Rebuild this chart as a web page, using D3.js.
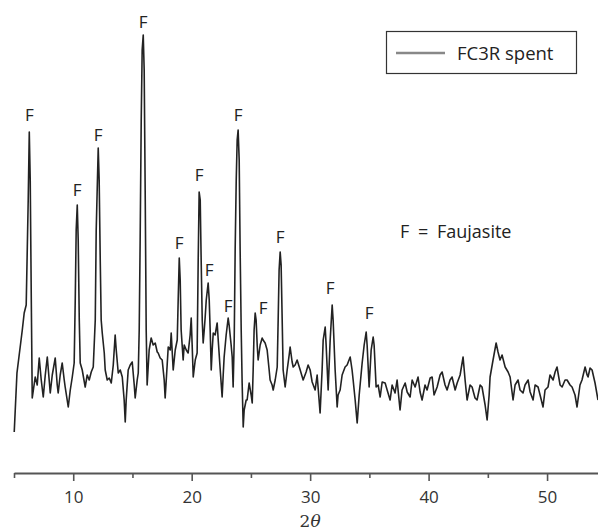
<!DOCTYPE html>
<html>
<head>
<meta charset="utf-8">
<script src="https://cdn.jsdelivr.net/npm/d3@7"></script>
<style>
  html, body { margin: 0; padding: 0; background: #fff; }
  svg { display: block; font-family: "Open Sans", "Noto Sans", sans-serif; }
</style>
</head>
<body>
<div id="chart"></div>
<script>
// XRD pattern (2theta in degrees, intensity in a.u.)
const twoTheta = [
  5.02, 5.25, 5.70, 5.86, 6.03, 6.20, 6.29, 6.37, 6.46, 6.54, 6.79, 6.96, 7.13, 7.30, 7.47, 7.64, 7.81, 7.97,
  8.06, 8.23, 8.48, 8.65, 8.73, 8.90, 9.07, 9.24, 9.32, 9.58, 9.75, 9.92, 10.08, 10.17, 10.25, 10.34, 10.42,
  10.51, 10.59, 10.76, 11.01, 11.18, 11.35, 11.52, 11.69, 11.86, 11.94, 12.11, 12.19, 12.28, 12.36, 12.45,
  12.62, 12.70, 12.87, 13.04, 13.21, 13.38, 13.54, 13.63, 13.80, 13.97, 14.14, 14.30, 14.39, 14.47, 14.64,
  14.81, 14.98, 15.15, 15.23, 15.40, 15.49, 15.57, 15.65, 15.74, 15.82, 15.91, 15.99, 16.08, 16.16, 16.24,
  16.41, 16.58, 16.75, 16.92, 17.09, 17.17, 17.34, 17.51, 17.68, 17.76, 17.93, 18.02, 18.19, 18.27, 18.44,
  18.61, 18.78, 18.86, 18.95, 19.03, 19.11, 19.28, 19.37, 19.54, 19.70, 19.87, 19.96, 20.04, 20.13, 20.30,
  20.46, 20.55, 20.63, 20.72, 20.80, 20.89, 20.97, 21.06, 21.14, 21.23, 21.39, 21.48, 21.56, 21.65, 21.73,
  21.82, 21.98, 22.15, 22.24, 22.41, 22.57, 22.66, 22.74, 22.91, 23.08, 23.16, 23.33, 23.42, 23.50, 23.59,
  23.67, 23.76, 23.84, 23.92, 24.01, 24.09, 24.18, 24.26, 24.35, 24.43, 24.60, 24.68, 24.85, 25.02, 25.11,
  25.19, 25.27, 25.36, 25.44, 25.53, 25.61, 25.78, 25.95, 26.03, 26.20, 26.37, 26.54, 26.62, 26.79, 26.88,
  27.05, 27.22, 27.30, 27.38, 27.47, 27.55, 27.64, 27.72, 27.89, 28.06, 28.23, 28.31, 28.48, 28.57, 28.73,
  28.90, 29.16, 29.41, 29.66, 29.83, 30.00, 30.17, 30.42, 30.59, 30.84, 31.01, 31.10, 31.27, 31.35, 31.52,
  31.69, 31.86, 31.94, 32.11, 32.28, 32.36, 32.53, 32.70, 32.95, 33.12, 33.38, 33.54, 33.63, 33.80, 33.97,
  34.14, 34.39, 34.56, 34.73, 34.81, 34.98, 35.15, 35.32, 35.40, 35.57, 35.74, 35.91, 36.08, 36.33, 36.50,
  36.75, 36.92, 37.17, 37.34, 37.59, 37.76, 38.02, 38.19, 38.44, 38.61, 38.86, 39.11, 39.28, 39.45, 39.70,
  39.87, 40.13, 40.30, 40.46, 40.72, 40.97, 41.14, 41.39, 41.56, 41.81, 41.98, 42.24, 42.41, 42.66, 42.91,
  43.08, 43.25, 43.50, 43.67, 43.92, 44.09, 44.35, 44.51, 44.77, 44.94, 45.11, 45.19, 45.44, 45.70, 45.86,
  46.03, 46.20, 46.46, 46.71, 46.88, 47.13, 47.30, 47.55, 47.72, 47.97, 48.14, 48.40, 48.57, 48.82, 48.99,
  49.24, 49.41, 49.66, 49.83, 50.08, 50.25, 50.51, 50.68, 50.84, 51.10, 51.27, 51.52, 51.69, 51.94, 52.11,
  52.36, 52.53, 52.78, 52.95, 53.21, 53.38, 53.46, 53.63, 53.80, 54.05, 54.30
];
const intensity = [
  8, 67, 110, 127, 135, 240, 308, 260, 140, 42, 63, 55, 82, 60, 43, 65, 83, 60,
  47, 65, 82, 55, 47, 65, 77, 60, 53, 33, 50, 63, 77, 140, 210, 235, 200,
  120, 77, 70, 53, 65, 60, 68, 73, 120, 210, 292, 260, 180, 120, 107,
  87, 70, 60, 62, 57, 75, 105, 90, 67, 70, 63, 40, 18, 40, 70,
  75, 78, 55, 42, 60, 67, 110, 200, 320, 390, 405, 370, 240, 110, 55,
  90, 102, 95, 97, 88, 87, 82, 80, 60, 42, 75, 93, 90, 107, 70,
  90, 100, 140, 182, 160, 110, 80, 95, 90, 87, 105, 122, 95, 63, 80,
  87, 180, 248, 240, 180, 120, 97, 110, 123, 140, 157, 140, 110, 70, 90,
  107, 105, 117, 100, 70, 43, 65, 83, 105, 122, 115, 95, 83, 53, 100,
  190, 260, 300, 310, 280, 190, 110, 57, 13, 30, 40, 40, 57, 45, 37,
  70, 110, 127, 120, 95, 80, 95, 102, 100, 97, 90, 70, 60, 55, 50,
  60, 73, 120, 170, 188, 175, 120, 70, 53, 70, 85, 93, 78, 73, 75,
  80, 70, 60, 68, 75, 70, 58, 50, 65, 27, 70, 100, 113, 95, 50,
  100, 135, 120, 70, 33, 45, 50, 65, 73, 75, 83, 70, 60, 40, 17,
  45, 77, 95, 108, 95, 53, 90, 103, 95, 53, 55, 43, 58, 57, 50,
  40, 55, 47, 60, 30, 50, 57, 48, 43, 60, 53, 63, 48, 40, 55,
  50, 62, 63, 45, 53, 65, 68, 55, 50, 60, 63, 50, 57, 65, 83,
  60, 40, 55, 53, 42, 40, 55, 53, 35, 20, 45, 63, 80, 97, 88,
  80, 85, 73, 68, 63, 40, 55, 60, 50, 47, 55, 60, 48, 40, 55,
  53, 45, 33, 50, 53, 65, 60, 68, 73, 55, 53, 60, 60, 55, 53,
  45, 33, 55, 60, 73, 65, 63, 72, 70, 57, 40
];

// "F" peak markers (position of the letter)
const peakTheta = [6.29, 10.34, 12.11, 15.91, 18.95, 20.63, 21.48, 23.08, 23.92, 26.03, 27.47, 31.69, 34.98];
const peakI = [325, 250, 305, 418, 197, 265, 170, 134, 325, 132, 203, 152, 127];

const majorTicks = [10, 20, 30, 40, 50];
const minorTicks = [5, 15, 25, 35, 45];

const width = 598, height = 531;

const svg = d3.select('#chart')
  .append('svg')
  .attr('width', width)
  .attr('height', height);

const x = d3.scaleLinear().domain([5, 54.3]).range([14, 598]);
const y = d3.scaleLinear().domain([0, 410]).range([440, 30]);

// axis, no left axis in the figure
const axisY = 473;

svg.append('g')
  .attr('class', 'x minor')
  .attr('transform', `translate(0,${axisY})`)
  .call(d3.axisBottom(x).tickValues(minorTicks).tickSize(5).tickSizeOuter(0).tickFormat(''))
  .call(g => g.select('.domain').remove())
  .call(g => g.selectAll('line').attr('stroke', '#555').attr('stroke-width', 1.6));

const xAxis = svg.append('g')
  .attr('class', 'x axis')
  .attr('transform', `translate(0,${axisY})`)
  .call(d3.axisBottom(x).tickValues(majorTicks).tickSize(8).tickSizeOuter(0).tickPadding(10));

xAxis.select('.domain').attr('stroke', '#555').attr('stroke-width', 1.8);
xAxis.selectAll('.tick line').attr('stroke', '#555').attr('stroke-width', 1.6);
xAxis.selectAll('.tick text')
  .attr('fill', '#333')
  .attr('font-size', 17)
  .attr('font-family', '"Open Sans", "Noto Sans", sans-serif');

const label = svg.append('text')
  .attr('x', x(30))
  .attr('y', 527)
  .attr('text-anchor', 'middle')
  .attr('fill', '#333')
  .attr('font-size', 17)
  .attr('font-family', '"DejaVu Serif", serif');
label.append('tspan').text('2');
label.append('tspan').attr('font-style', 'italic').text('θ');

// pattern
const line = d3.line()
  .x((d, i) => x(twoTheta[i]))
  .y(d => y(d));

svg.append('path')
  .datum(intensity)
  .attr('fill', 'none')
  .attr('stroke', '#222')
  .attr('stroke-width', 1.6)
  .attr('stroke-linejoin', 'round')
  .attr('d', line);

// peak letters
svg.append('g')
  .attr('class', 'peaks')
  .selectAll('text')
  .data(peakTheta)
  .join('text')
  .attr('x', d => x(d))
  .attr('y', (d, i) => y(peakI[i]) + 6)
  .attr('text-anchor', 'middle')
  .attr('font-size', 17)
  .attr('fill', '#222')
  .text('F');

svg.append('text')
  .attr('x', 400)
  .attr('y', 238)
  .attr('font-size', 18)
  .attr('word-spacing', 4)
  .attr('fill', '#222')
  .text('F = Faujasite');

// legend
const legend = svg.append('g').attr('class', 'legend');
legend.append('rect')
  .attr('x', 386.5).attr('y', 31.5)
  .attr('width', 190).attr('height', 42)
  .attr('fill', '#fff')
  .attr('stroke', '#333')
  .attr('stroke-width', 1.2);
legend.append('line')
  .attr('x1', 396).attr('x2', 445)
  .attr('y1', 53).attr('y2', 53)
  .attr('stroke', '#888')
  .attr('stroke-width', 2.5);
legend.append('text')
  .attr('x', 457).attr('y', 59.5)
  .attr('font-size', 18.5)
  .attr('fill', '#222')
  .text('FC3R spent');
</script>
</body>
</html>
